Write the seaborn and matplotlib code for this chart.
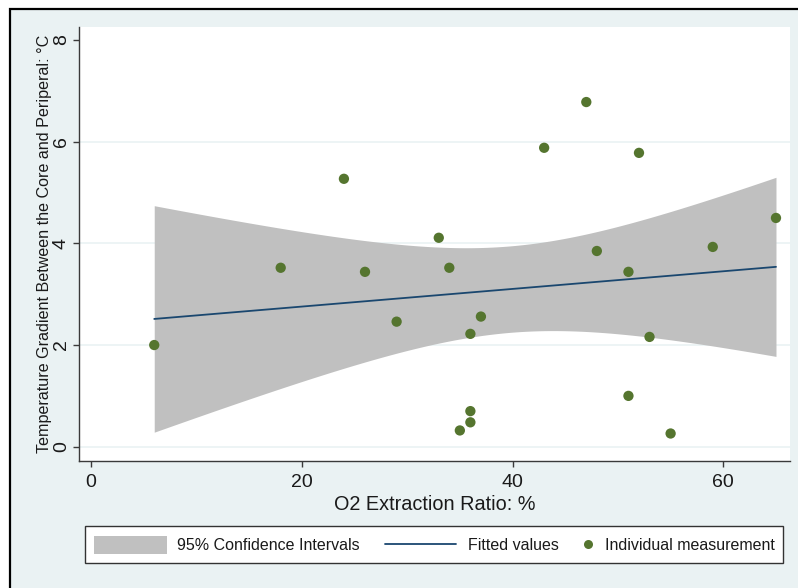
import numpy as np
import pandas as pd
import matplotlib
matplotlib.use("Agg")
import matplotlib.pyplot as plt
from matplotlib.patches import Rectangle, Patch
from matplotlib.lines import Line2D
import seaborn as sns

# ---------------- data ----------------
o2_extraction = [6, 18, 24, 26, 29, 33, 34, 35, 36, 36, 36, 37,
                 43, 47, 48, 51, 51, 52, 53, 55, 59, 65]
temp_gradient = [2.00, 3.52, 5.27, 3.44, 2.46, 4.11, 3.52, 0.32, 2.22, 0.70, 0.48, 2.56,
                 5.88, 6.78, 3.85, 3.44, 1.00, 5.78, 2.16, 0.26, 3.93, 4.50]
x_ticks = [0, 20, 40, 60]
y_ticks = [0, 2, 4, 6, 8]
legend_labels = ["95% Confidence Intervals", "Fitted values", "Individual measurement"]
x_label = "O2 Extraction Ratio: %"
y_label = "Temperature Gradient Between the Core and Periperal: °C"

# ---------------- styles ----------------
BG = "#EAF2F3"
GREEN = "#55752F"
NAVY = "#1A476F"
CI_GRAY = "#C0C0C0"
AXIS_C = "#3a3a3a"
TEXT_C = "#1a1a1a"

sns.set_style("white")
plt.rcParams["font.family"] = ["Liberation Sans", "DejaVu Sans"]

W, H = 798, 588
fig = plt.figure(figsize=(W / 100, H / 100), dpi=100, facecolor="white")

def fx(px):
    return px / W

def fy(py):
    return 1 - py / H

# outer graph region with black frame (only top/left visible in reference)
fig.patches.append(Rectangle((fx(9.5), -0.05), 1.2, fy(8.5) + 0.05,
                             transform=fig.transFigure, facecolor=BG,
                             edgecolor="black", linewidth=1.6, zorder=-5))

ax = fig.add_axes([fx(79), fy(461), fx(790) - fx(79), fy(27) - fy(461)])
ax.set_facecolor("white")

# ---------------- fit + analytic 95% CI ----------------
df = pd.DataFrame({"x": o2_extraction, "y": temp_gradient})
x = df["x"].to_numpy(float)
y = df["y"].to_numpy(float)
n = len(x)
slope, intercept = np.polyfit(x, y, 1)
resid = y - (intercept + slope * x)
s = np.sqrt(np.sum(resid ** 2) / (n - 2))
sxx = np.sum((x - x.mean()) ** 2)
xg = np.linspace(x.min(), x.max(), 300)
fit = intercept + slope * xg
t_crit = 2.086  # t(0.975, df = n - 2 = 20)
se = s * np.sqrt(1.0 / n + (xg - x.mean()) ** 2 / sxx)
fit_df = pd.DataFrame({"x": xg, "fit": fit, "lo": fit - t_crit * se, "hi": fit + t_crit * se})

ax.fill_between(fit_df["x"], fit_df["lo"], fit_df["hi"], color=CI_GRAY, linewidth=0, zorder=2)
sns.lineplot(data=fit_df, x="x", y="fit", ax=ax, color=NAVY, linewidth=1.3, zorder=3)
sns.scatterplot(data=df, x="x", y="y", ax=ax, color=GREEN, s=55, edgecolor="none",
                linewidth=0, zorder=4)

# ---------------- axes ----------------
ax.set_xlim(-1.14, 66.33)
ax.set_ylim(-0.281, 8.256)
ax.set_xticks(x_ticks)
ax.set_yticks(y_ticks)
ax.set_xticklabels([str(v) for v in x_ticks])
ax.set_yticklabels([str(v) for v in y_ticks], rotation=90, va="center")

ax.set_axisbelow(True)
ax.yaxis.grid(True, color=BG, linewidth=1.2)
ax.xaxis.grid(False)
ax.get_ygridlines()[-1].set_visible(False)

for side in ["top", "right"]:
    ax.spines[side].set_visible(False)
for side in ["left", "bottom"]:
    ax.spines[side].set_color(AXIS_C)
    ax.spines[side].set_linewidth(1.0)

ax.tick_params(axis="both", which="major", direction="out", length=4.5, width=1.0,
               color=AXIS_C, labelsize=14, labelcolor=TEXT_C)
ax.tick_params(axis="x", bottom=True, pad=5)
ax.tick_params(axis="y", left=True, pad=2)

ax.set_xlabel(x_label, fontsize=14.3, color=TEXT_C, labelpad=3)
ax.set_ylabel(y_label, fontsize=11.6, color=TEXT_C, labelpad=1)

# ---------------- legend ----------------
fig.patches.append(Rectangle((fx(85), fy(563)), fx(783) - fx(85), fy(526) - fy(563),
                             transform=fig.transFigure, facecolor="white",
                             edgecolor="#333333", linewidth=1.0, zorder=1))

leg_y = fy(545)
common = dict(loc="center left", frameon=False, borderpad=0, borderaxespad=0,
              fontsize=11.5, labelcolor=TEXT_C)

h1 = Patch(facecolor=CI_GRAY, edgecolor="none")
l1 = fig.legend([h1], [legend_labels[0]], bbox_to_anchor=(fx(94), leg_y),
                handlelength=4.56, handleheight=1.4, handletextpad=0.62, **common)

h2 = Line2D([], [], color=NAVY, linewidth=1.3)
l2 = fig.legend([h2], [legend_labels[1]], bbox_to_anchor=(fx(385), leg_y),
                handlelength=4.44, handletextpad=0.75, **common)

h3 = Line2D([], [], color=GREEN, marker="o", linestyle="none", markersize=6.5,
            markeredgewidth=0)
l3 = fig.legend([h3], [legend_labels[2]], bbox_to_anchor=(fx(580), leg_y),
                handlelength=1.0, handletextpad=0.56, **common)

fig.savefig("out.png", dpi=100, facecolor="white")
